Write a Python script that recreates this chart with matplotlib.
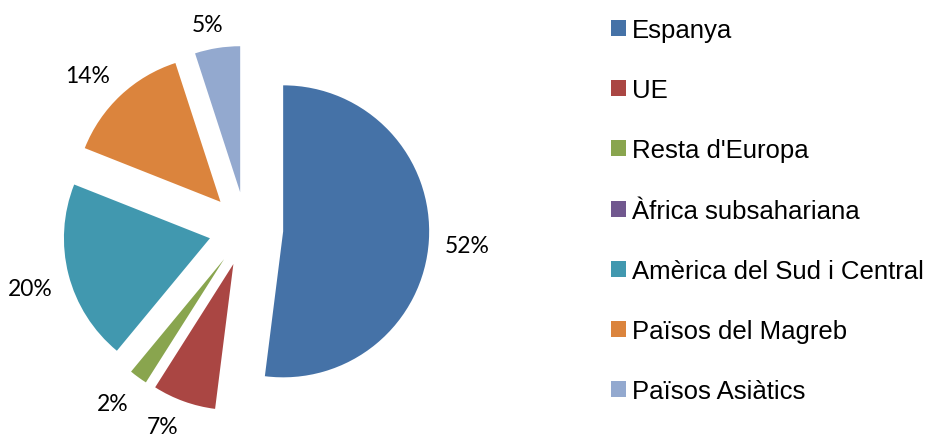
import matplotlib
matplotlib.use("Agg")
import matplotlib.pyplot as plt
import numpy as np

categories = ["Espanya", "UE", "Resta d'Europa", "Àfrica subsahariana",
              "Amèrica del Sud i Central", "Països del Magreb", "Països Asiàtics"]
values = [52, 7, 2, 0, 20, 14, 5]
colors = ["#4572A7", "#AA4643", "#89A54E", "#71588F", "#4198AF", "#DB843D", "#93A9CF"]

W, H = 928, 439
fig = plt.figure(figsize=(W / 100, H / 100), dpi=100)
R = 146.0
cx, cy = 246.0, 230.0
ax = fig.add_axes([0, 0, 2 * cx / W, 1])

wedges, _ = ax.pie(
    values, colors=colors, startangle=90, counterclock=False,
    explode=[0.255] * len(values), radius=1.0,
    wedgeprops=dict(linewidth=0),
)
ax.set_xlim(-cx / R, cx / R)
ax.set_ylim(-(H - cy) / R, cy / R)
ax.axis("off")

renderer = fig.canvas.get_renderer()
gap = 16 / R
for w, v in zip(wedges, values):
    if v == 0:
        continue
    ang = np.deg2rad((w.theta1 + w.theta2) / 2)
    dx, dy = np.cos(ang), np.sin(ang)
    px = w.center[0] + (w.r + gap) * dx
    py = w.center[1] + (w.r + gap) * dy
    t = ax.text(px, py, f"{v}%", ha="center", va="center",
                family=["Lato", "DejaVu Sans"], fontsize=16.5, color="black")
    bb = t.get_window_extent(renderer)
    ox = bb.width / 2 * np.clip(3 * dx, -1, 1) / R
    oy = (bb.height / 2 * np.clip(3 * dy, -1, 1) - 2.5) / R
    t.set_position((px + ox, py + oy))
    bb = t.get_window_extent(renderer)
    if bb.y0 < 1:
        t.set_position((px + ox, py + oy + (1 - bb.y0) / R))

leg = fig.legend(wedges, categories, loc="upper left",
                 bbox_to_anchor=(611 / W, 1 - 19 / H), frameon=False,
                 prop=dict(family=["Liberation Sans", "DejaVu Sans"], size=18.5),
                 handlelength=0.58, handleheight=0.58, handletextpad=0.24,
                 labelspacing=1.41, borderpad=0, borderaxespad=0)

fig.savefig("out.png", dpi=100)
